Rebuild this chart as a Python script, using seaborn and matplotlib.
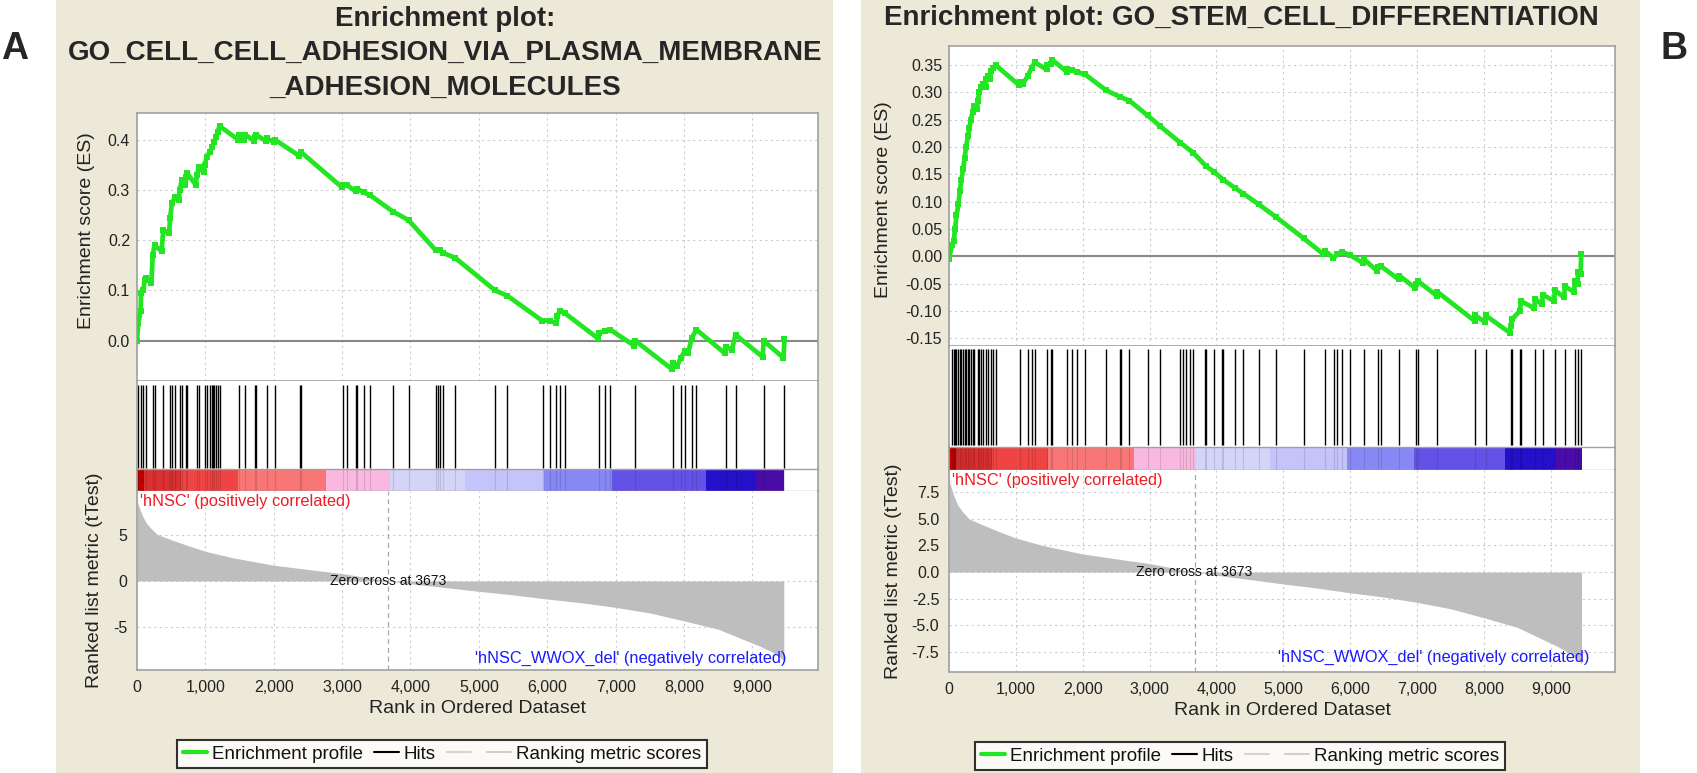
import matplotlib
matplotlib.use("Agg")
import matplotlib.pyplot as plt
from matplotlib.lines import Line2D
from matplotlib.patches import Rectangle
from matplotlib.ticker import FixedLocator, FuncFormatter
import seaborn as sns
import pandas as pd

sns.set_style("white")
plt.rcParams['font.family'] = ['Liberation Sans', 'DejaVu Sans']
plt.rcParams['axes.unicode_minus'] = False

W, H = 1697, 773

# ranked list (same dataset in both panels)
n_genes = 9460
zero_cross = 3673
metric_rank = [0, 30, 70, 130, 200, 300, 480, 750, 1000, 1400, 2000, 2600, 3000, 3400, 3673,
               4000, 4500, 5000, 5500, 6000, 6500, 7000, 7500, 8000, 8500, 8800, 9100, 9300, 9400, 9460]
metric_value = [8.6, 8.0, 7.2, 6.3, 5.7, 5.0, 4.5, 3.8, 3.2, 2.5, 1.7, 1.15, 0.8, 0.32, 0.0,
                -0.3, -0.7, -1.12, -1.5, -1.95, -2.35, -2.85, -3.45, -4.3, -5.2, -6.1, -7.0, -7.7, -8.2, -8.6]

band_edges = [0, 100, 650, 1480, 2760, 3700, 4800, 5950, 6950, 8320, 9060, 9460]
band_colors = ['#c00000', '#d93030', '#ee4444', '#f87676', '#f9b8e0', '#d4d4f8',
               '#c4c4fa', '#8888f4', '#6452e6', '#2410c8', '#4a0ca8']

# panel A
title_a = ["Enrichment plot:", "GO_CELL_CELL_ADHESION_VIA_PLASMA_MEMBRANE", "_ADHESION_MOLECULES"]
hits_a = [20, 53, 94, 135, 230, 256, 384, 485, 513, 559, 627, 653, 722, 735, 876, 904, 991, 1018,
          1065, 1099, 1113, 1126, 1152, 1180, 1207, 1497, 1584, 1720, 1740, 1901, 2016, 2380, 2400,
          3014, 3067, 3203, 3222, 3316, 3405, 3742, 3971, 4369, 4403, 4436, 4470, 4652, 5238, 5413,
          5939, 6034, 6135, 6183, 6257, 6756, 6840, 6923, 7289, 7838, 7950, 8014, 8112, 8181, 8614,
          8754, 9166, 9470]
es_rank_a = [0, 20, 53, 60, 94, 110, 135, 210, 230, 256, 360, 384, 470, 485, 513, 559, 610, 627,
             653, 705, 722, 735, 860, 876, 904, 975, 991, 1018, 1065, 1099, 1126, 1152, 1180, 1207,
             1480, 1497, 1570, 1584, 1705, 1720, 1740, 1885, 1901, 2000, 2016, 2370, 2400, 3000,
             3014, 3067, 3200, 3222, 3316, 3405, 3742, 3971, 4369, 4436, 4470, 4652, 5238, 5413,
             5925, 6034, 6135, 6150, 6183, 6257, 6740, 6756, 6840, 6923, 7275, 7289, 7820, 7838,
             7900, 7950, 8014, 8060, 8112, 8181, 8600, 8614, 8700, 8754, 9150, 9166, 9455, 9470]
es_a = [0.0, 0.035, 0.06, 0.095, 0.10, 0.12, 0.125, 0.115, 0.17, 0.19, 0.178, 0.22, 0.215, 0.245,
        0.275, 0.285, 0.28, 0.30, 0.32, 0.31, 0.325, 0.333, 0.31, 0.33, 0.345, 0.335, 0.35, 0.365,
        0.375, 0.385, 0.395, 0.405, 0.415, 0.427, 0.40, 0.41, 0.40, 0.41, 0.398, 0.406, 0.41,
        0.397, 0.403, 0.395, 0.40, 0.368, 0.375, 0.305, 0.31, 0.31, 0.297, 0.302, 0.295, 0.29,
        0.257, 0.24, 0.18, 0.18, 0.175, 0.165, 0.10, 0.09, 0.04, 0.04, 0.035, 0.05, 0.06, 0.055,
        0.005, 0.015, 0.02, 0.022, -0.01, 0.0, -0.056, -0.045, -0.05, -0.035, -0.02, -0.025,
        0.005, 0.022, -0.025, -0.012, -0.018, 0.012, -0.032, 0.0, -0.034, 0.003]

# panel B
title_b = "Enrichment plot: GO_STEM_CELL_DIFFERENTIATION"
hits_b = [41, 70, 91, 112, 141, 162, 184, 212, 234, 255, 284, 305, 326, 355, 377, 427, 455, 484,
          512, 555, 584, 627, 662, 698, 1055, 1177, 1234, 1284, 1469, 1519, 1541, 1769, 1841, 1912,
          2034, 2355, 2555, 2569, 2698, 2969, 3160, 3460, 3500, 3540, 3600, 3650, 3825, 3845, 3960,
          4080, 4105, 4280, 4400, 4635, 4890, 5305, 5626, 5758, 5808, 5876, 5990, 6200, 6410, 6460,
          6732, 6982, 7010, 7304, 7870, 8025, 8398, 8422, 8540, 8555, 8765, 8880, 9060, 9209, 9358,
          9408, 9450]
es_rank_b = [0, 41, 70, 91, 112, 141, 162, 184, 212, 234, 255, 284, 305, 326, 355, 377, 420, 427,
             455, 484, 512, 550, 555, 584, 620, 627, 662, 698, 1050, 1055, 1100, 1177, 1234, 1284,
             1460, 1469, 1519, 1541, 1760, 1769, 1841, 1912, 2034, 2350, 2555, 2698, 2969, 3160,
             3460, 3650, 3845, 3960, 4105, 4280, 4400, 4635, 4890, 5305, 5600, 5626, 5750, 5808,
             5876, 5990, 6190, 6200, 6400, 6410, 6460, 6725, 6732, 6975, 6982, 7010, 7295, 7304,
             7860, 7870, 8015, 8025, 8390, 8398, 8422, 8535, 8555, 8755, 8765, 8870, 8880, 9050,
             9060, 9200, 9209, 9350, 9358, 9400, 9408, 9445, 9455]
es_b = [-0.005, 0.02, 0.028, 0.05, 0.075, 0.095, 0.12, 0.14, 0.16, 0.18, 0.20, 0.22, 0.235, 0.25,
        0.265, 0.275, 0.27, 0.285, 0.30, 0.31, 0.315, 0.31, 0.325, 0.33, 0.325, 0.34, 0.345, 0.35,
        0.313, 0.32, 0.315, 0.33, 0.345, 0.355, 0.342, 0.35, 0.352, 0.36, 0.338, 0.342, 0.341,
        0.338, 0.333, 0.304, 0.292, 0.285, 0.258, 0.238, 0.208, 0.19, 0.165, 0.155, 0.14, 0.125,
        0.115, 0.095, 0.072, 0.033, 0.004, 0.01, -0.003, 0.004, 0.008, 0.003, -0.012, -0.005,
        -0.026, -0.02, -0.018, -0.042, -0.035, -0.058, -0.05, -0.045, -0.072, -0.065, -0.118,
        -0.108, -0.12, -0.108, -0.14, -0.128, -0.115, -0.10, -0.082, -0.095, -0.078, -0.088,
        -0.07, -0.082, -0.062, -0.075, -0.055, -0.065, -0.045, -0.05, -0.028, -0.032, 0.005]

x_ticks = [0, 1000, 2000, 3000, 4000, 5000, 6000, 7000, 8000, 9000]
es_ticks_a = [0.0, 0.1, 0.2, 0.3, 0.4]
es_ticks_b = [-0.15, -0.10, -0.05, 0.0, 0.05, 0.10, 0.15, 0.20, 0.25, 0.30, 0.35]
rk_ticks_a = [-5, 0, 5]
rk_ticks_b = [-7.5, -5.0, -2.5, 0.0, 2.5, 5.0, 7.5]

GREEN = '#22e622'
SPINE = '#a0a0a0'
GRID = '#cccccc'
BEIGE = '#ece9d8'


def px_axes(fig, left, top, right, bottom):
    return fig.add_axes([left / W, 1 - bottom / H, (right - left) / W, (bottom - top) / H])


def style_spines(ax, sides):
    for s in ['left', 'right', 'top', 'bottom']:
        ax.spines[s].set_visible(s in sides)
        ax.spines[s].set_color(SPINE)
        ax.spines[s].set_linewidth(1.2)


def draw_panel(fig, g, es_rank, es_vals, hits, es_ticks, es_fmt, es_ylim,
               rk_ticks, rk_fmt, rk_ylim):
    xlim = (0, 9960)
    # enrichment score
    ax1 = px_axes(fig, g['left'], g['es_top'], g['right'], g['es_bot'])
    ax1.set_facecolor('white')
    ax1.axhline(0, color='#888888', lw=1.5, zorder=1)
    df = pd.DataFrame({'rank': es_rank, 'es': es_vals})
    sns.lineplot(data=df, x='rank', y='es', ax=ax1, color=GREEN, lw=3.4, sort=False,
                 estimator=None, marker='s', markersize=3.8, markeredgewidth=0, zorder=3)
    ax1.set_xlim(*xlim)
    ax1.set_ylim(*es_ylim)
    ax1.xaxis.set_major_locator(FixedLocator(x_ticks))
    ax1.yaxis.set_major_locator(FixedLocator(es_ticks))
    ax1.yaxis.set_major_formatter(FuncFormatter(lambda v, p: es_fmt % v))
    ax1.set_xticklabels([])
    ax1.grid(True, color=GRID, ls=(0, (2, 3)), lw=0.8)
    ax1.tick_params(axis='x', length=0)
    ax1.tick_params(axis='y', length=3, color=SPINE, labelsize=11.5, labelcolor='#222222', pad=2)
    ax1.set_xlabel('')
    ax1.set_ylabel('Enrichment score (ES)', fontsize=14, color='#222222')
    ax1.yaxis.set_label_coords(g['es_lab_x'], g['es_lab_y'])
    style_spines(ax1, ['left', 'right', 'top', 'bottom'])

    # hits
    ax2 = px_axes(fig, g['left'], g['es_bot'], g['right'], g['bar_top'])
    ax2.vlines(hits, g['hit_lo'], g['hit_hi'], color='black', lw=1.0)
    ax2.set_xlim(*xlim)
    ax2.set_ylim(0, 1)
    ax2.set_xticks([])
    ax2.set_yticks([])
    style_spines(ax2, ['left', 'right'])

    # colour bar of the ranked list
    ax3 = px_axes(fig, g['left'], g['bar_top'], g['right'], g['bar_bot'])
    for lo, hi, c in zip(band_edges[:-1], band_edges[1:], band_colors):
        ax3.axvspan(lo, hi, color=c, lw=0)
    ax3.vlines(hits, 0, 1, color='black', lw=0.8, alpha=0.12)
    ax3.set_xlim(*xlim)
    ax3.set_ylim(0, 1)
    ax3.set_xticks([])
    ax3.set_yticks([])
    style_spines(ax3, ['left', 'right', 'top', 'bottom'])
    for s in ['top', 'bottom']:
        ax3.spines[s].set_linewidth(1.0)

    # ranked list metric
    ax4 = px_axes(fig, g['left'], g['bar_bot'], g['right'], g['rk_bot'])
    ax4.fill_between(metric_rank, metric_value, 0, color='#bebebe', lw=0, zorder=2)
    ax4.axvline(zero_cross, color='#a8a8a8', ls=(0, (4, 3)), lw=0.9, zorder=3)
    ax4.set_xlim(*xlim)
    ax4.set_ylim(*rk_ylim)
    ax4.xaxis.set_major_locator(FixedLocator(x_ticks))
    ax4.xaxis.set_major_formatter(FuncFormatter(lambda v, p: f"{int(v):,}"))
    ax4.yaxis.set_major_locator(FixedLocator(rk_ticks))
    ax4.yaxis.set_major_formatter(FuncFormatter(lambda v, p: rk_fmt % v))
    ax4.grid(True, color=GRID, ls=(0, (2, 3)), lw=0.8, zorder=0)
    ax4.set_axisbelow(True)
    ax4.tick_params(axis='both', length=4, color=SPINE, labelsize=11.5, labelcolor='#222222', pad=3)
    ax4.set_xlabel('Rank in Ordered Dataset', fontsize=14, color='#222222')
    ax4.xaxis.set_label_coords(0.5, g['x_lab_y'])
    ax4.set_ylabel('Ranked list metric (tTest)', fontsize=14, color='#222222')
    ax4.yaxis.set_label_coords(g['rk_lab_x'], 0.5)
    style_spines(ax4, ['left', 'right', 'bottom'])
    ax4.text(0.004, 0.985, "'hNSC' (positively correlated)", transform=ax4.transAxes,
             color='#ee1c24', fontsize=11.8, ha='left', va='top')
    ax4.text(zero_cross, 0, 'Zero cross at 3673', fontsize=10, ha='center', va='center',
             color='#111111', zorder=4)
    ax4.text(g['neg_x'], g['neg_y'], "'hNSC_WWOX_del' (negatively correlated)",
             transform=ax4.transAxes, color='#1a1aff', fontsize=11.8, ha='right', va='center')

    handles = [Line2D([], [], color=GREEN, lw=3),
               Line2D([], [], color='black', lw=1.5),
               Line2D([], [], color='#d4d4d4', lw=1.5),
               Line2D([], [], color='#cfcfcf', lw=1.5)]
    labels = ['Enrichment profile', 'Hits', '', 'Ranking metric scores']
    leg = fig.legend(handles, labels, loc='center', bbox_to_anchor=g['leg'], ncol=4,
                     frameon=True, fancybox=False, edgecolor='black', fontsize=13.5,
                     handlelength=1.3, handletextpad=0.25, columnspacing=0.6,
                     borderpad=0.3, borderaxespad=0)
    leg.get_frame().set_linewidth(1.5)
    for t in leg.get_texts():
        t.set_color('#111111')


fig = plt.figure(figsize=(W / 100, H / 100), dpi=100)
fig.patch.set_facecolor('white')
fig.patches.append(Rectangle((56 / W, 0), (833 - 56) / W, 1, transform=fig.transFigure,
                             facecolor=BEIGE, edgecolor='none', zorder=-10))
fig.patches.append(Rectangle((861 / W, 0), (1640 - 861) / W, 1, transform=fig.transFigure,
                             facecolor=BEIGE, edgecolor='none', zorder=-10))

geom_a = dict(left=137, right=818, es_top=113, es_bot=381, bar_top=469, bar_bot=491, rk_bot=670,
              hit_lo=0.01, hit_hi=0.955, es_lab_x=-0.062, es_lab_y=0.56, rk_lab_x=-0.05,
              x_lab_y=-0.165, neg_x=0.953, neg_y=0.067, leg=(442 / W, 1 - 754 / H))
geom_b = dict(left=949, right=1615, es_top=46, es_bot=346, bar_top=447, bar_bot=470, rk_bot=672,
              hit_lo=0.02, hit_hi=0.97, es_lab_x=-0.086, es_lab_y=0.487, rk_lab_x=-0.07,
              x_lab_y=-0.15, neg_x=0.961, neg_y=0.07, leg=(1240 / W, 1 - 756 / H))

draw_panel(fig, geom_a, es_rank_a, es_a, hits_a, es_ticks_a, '%.1f', (-0.08, 0.453),
           rk_ticks_a, '%d', (-9.6, 9.7))
draw_panel(fig, geom_b, es_rank_b, es_b, hits_b, es_ticks_b, '%.2f', (-0.164, 0.385),
           rk_ticks_b, '%.1f', (-9.4, 9.6))

# titles
for txt, yc in zip(title_a, [19, 53, 88]):
    fig.text(445 / W, 1 - yc / H, txt, ha='center', va='center', fontsize=20, fontweight='bold')
fig.text(1241 / W, 1 - 18 / H, title_b, ha='center', va='center', fontsize=20, fontweight='bold')

fig.text(15 / W, 1 - 49 / H, 'A', ha='center', va='center', fontsize=27, fontweight='bold')
fig.text(1674 / W, 1 - 49 / H, 'B', ha='center', va='center', fontsize=27, fontweight='bold')

fig.savefig('out.png', dpi=100, facecolor='white')
